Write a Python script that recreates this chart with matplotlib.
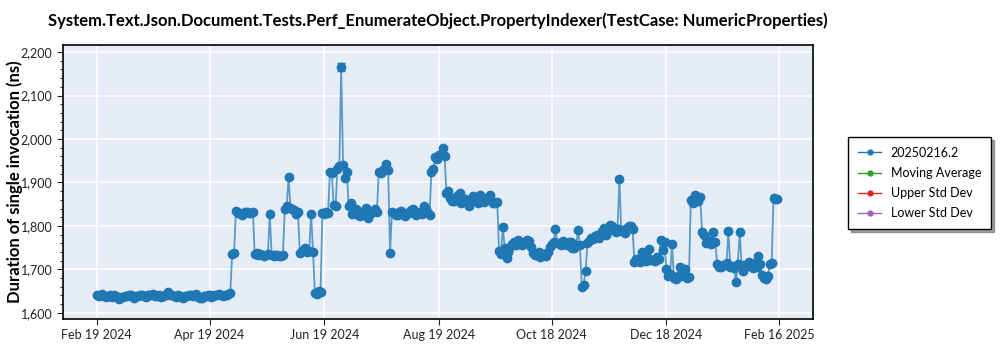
import matplotlib.pyplot as plt
import matplotlib.dates as mdates
import pandas as pd
from matplotlib.ticker import AutoMinorLocator, FuncFormatter


TITULO = "System.Text.Json.Document.Tests.Perf_EnumerateObject.PropertyIndexer(TestCase: NumericProperties)"
ETIQUETA_Y = "Duration of single invocation (ns)"

FECHA_INICIO = "2024-02-19"
PASO = "1D"

# duracion media por ejecucion diaria (ns)
valores = [
    # feb - abr 2024
    1641, 1639, 1640, 1643, 1638, 1636, 1639, 1641, 1636, 1640, 1638, 1635,
    1632, 1637, 1637, 1639, 1639, 1642, 1640, 1637, 1634, 1638, 1638, 1640,
    1641, 1639, 1637, 1640, 1640, 1642, 1643, 1639, 1638, 1641, 1636, 1639,
    1642, 1640, 1648, 1641, 1640, 1638, 1637, 1640, 1639, 1636, 1635, 1639,
    1638, 1642, 1641, 1638, 1640, 1643, 1637, 1634, 1633, 1638, 1639, 1641,
    1640, 1637, 1638, 1640, 1641, 1644, 1642, 1639, 1640, 1642, 1643, 1645,
    # may - jun 2024
    1735, 1738, 1834, 1830, 1830, 1826, 1828, 1832, 1831, 1829, 1829, 1833,
    1735, 1738, 1733, 1736, 1734, 1731, 1732, 1735, 1828, 1733, 1731, 1734,
    1733, 1730, 1730, 1733, 1838, 1845, 1912, 1842, 1840, 1836, 1828, 1833,
    1738, 1742, 1745, 1748, 1740, 1743, 1828, 1741, 1646, 1643, 1650, 1647,
    # jun - jul 2024
    1830, 1828, 1833, 1829, 1925, 1922, 1848, 1845, 1932, 1938, 2165, 1940,
    1910, 1925, 1845, 1852, 1828, 1835, 1840, 1826, 1822, 1830, 1835, 1842,
    1818, 1826, 1830, 1834, 1838, 1832, 1925, 1922, 1928, 1930, 1942, 1928,
    1738, 1832, 1830, 1826,
    1826, 1832, 1835, 1828, 1822, 1830, 1830, 1836, 1840, 1832, 1826, 1830,
    1832, 1828, 1845, 1838, 1830, 1826, 1925, 1930, 1958, 1955, 1962, 1966,
    1980, 1960,
    # ago - oct 2024
    1875, 1880, 1865, 1858, 1858, 1866, 1870, 1875, 1852, 1860, 1862, 1855,
    1845, 1858, 1868, 1862, 1860, 1853, 1872, 1866, 1855, 1862, 1863, 1870,
    1858, 1852, 1852, 1856, 1742, 1735, 1798, 1748, 1725, 1740, 1752, 1758,
    1762, 1756, 1768, 1760, 1755, 1762, 1760, 1768, 1765, 1752, 1738, 1732,
    1732, 1740, 1728, 1735, 1735, 1730, 1740, 1752, 1758, 1762, 1792, 1760,
    1760, 1756, 1765, 1758, 1755, 1762, 1762, 1748, 1750, 1756, 1790, 1755,
    1660, 1665, 1695, 1760,
    # nov - dic 2024
    1765, 1772, 1770, 1776, 1778, 1772, 1782, 1788, 1795, 1780, 1788, 1802,
    1800, 1790, 1785, 1792, 1908, 1788, 1790, 1784, 1795, 1800, 1800, 1792,
    1718, 1724, 1722, 1718, 1740, 1721, 1720, 1725, 1746, 1722, 1722, 1720,
    1728, 1724, 1768, 1745,
    # dic 2024 - feb 2025
    1763, 1700, 1685, 1690, 1758, 1680, 1678, 1684, 1705, 1685, 1690, 1700,
    1680, 1683, 1860, 1852, 1872, 1862, 1858, 1866, 1785, 1780, 1760, 1765,
    1765, 1758, 1785, 1762, 1712, 1706, 1705, 1710, 1710, 1715, 1788, 1706,
    1708, 1704, 1670, 1712,
    1785, 1710, 1695, 1706, 1712, 1718, 1708, 1702, 1715, 1705, 1730, 1712,
    1688, 1680, 1678, 1685, 1712, 1715, 1865, 1862, 1862,
]

# desviacion de cada medida (ns)
errores = [
    2, 3, 2, 2, 3, 2, 2, 3, 2, 2, 3, 2, 2, 3, 2, 2, 2, 3, 2, 2,
    3, 2, 2, 3, 2, 2, 3, 2, 2, 2, 3, 2, 2, 3, 2, 2, 3, 2, 2, 3,
    2, 2, 3, 2, 2, 3, 2, 2, 2, 3, 2, 2, 3, 2, 2, 3, 2, 2, 3, 2,
    2, 3, 2, 2, 3, 2, 2, 3, 2, 2, 3, 2, 3, 3, 2, 3, 2, 2, 3, 2,
    3, 2, 3, 3, 2, 3, 3, 2, 3, 2, 3, 3, 2, 3, 3, 2, 3, 2, 3, 3,
    3, 4, 4, 3, 3, 2, 3, 3, 2, 3, 3, 3, 4, 3, 3, 3, 2, 3, 3, 3,
    3, 2, 3, 3, 4, 3, 3, 2, 4, 4, 9, 4, 4, 3, 3, 3, 2, 3, 3, 2,
    3, 3, 2, 3, 3, 2, 3, 3, 2, 3, 4, 3, 3, 3, 4, 3, 2, 3, 3, 2,
    3, 2, 3, 3, 2, 3, 3, 2, 3, 3, 4, 3, 3, 2, 3, 3, 3, 2, 3, 3,
    4, 3, 3, 3, 2, 3, 3, 3, 2, 3, 3, 3, 2, 3, 3, 3, 3, 2, 3, 3,
    3, 3, 2, 3, 3, 3, 3, 2, 3, 3, 3, 2, 3, 4, 4, 5, 5, 3, 3, 3,
    3, 2, 3, 3, 2, 3, 3, 3, 2, 3, 3, 3, 3, 3, 2, 3, 3, 3, 3, 2,
    3, 3, 3, 2, 3, 4, 3, 3, 2, 3, 3, 3, 3, 2, 3, 3, 3, 4, 3, 3,
    3, 3, 2, 3, 3, 3, 4, 3, 3, 2, 3, 3, 3, 3, 3, 2, 3, 3, 3, 3,
    3, 3, 3, 2, 3, 3, 4, 3, 3, 3, 3, 2, 3, 3, 3, 3, 4, 3, 3, 3,
    3, 4, 3, 3, 4, 3, 2, 3, 3, 4, 3, 3, 2, 3, 3, 4, 3, 3, 3, 2,
    3, 4, 3, 3, 3, 2, 3, 3, 5, 4, 3, 3, 4, 3, 3, 2, 5, 4, 3, 3,
    4, 3, 2, 3, 4, 3, 3, 4, 3, 2, 3, 3, 4, 3, 4, 3, 3, 2, 3, 3,
    3, 4, 3,
]

ticks_x = ["2024-02-19", "2024-04-19", "2024-06-19", "2024-08-19",
           "2024-10-18", "2024-12-18", "2025-02-16"]

series_leyenda = ["20250216.2", "Moving Average", "Upper Std Dev", "Lower Std Dev"]
colores_leyenda = ["#1f77b4", "#2ca02c", "#d62728", "#9467bd"]

AZUL = "#1f77b4"
FONDO = "#e5ecf6"


def dibujar():
    plt.rcParams["font.family"] = ["Lato", "DejaVu Sans"]

    fechas = pd.date_range(FECHA_INICIO, periods=len(valores), freq=PASO)

    fig = plt.figure(figsize=(10, 3.5), dpi=100)
    ax = fig.add_axes([0.063, 0.089, 0.75, 0.782])
    ax.set_facecolor(FONDO)

    # linea semitransparente y puntos con barras de error
    ax.plot(fechas, valores, color=AZUL, linewidth=1.3, alpha=0.7, zorder=2)
    ax.errorbar(fechas, valores, yerr=errores, fmt="o", color=AZUL,
                markersize=6, elinewidth=1, capsize=3, capthick=1, zorder=3)

    ax.set_xlim(pd.Timestamp("2024-02-01"), pd.Timestamp("2025-03-06"))
    ax.set_ylim(1586, 2216)

    ax.set_xticks([pd.Timestamp(t) for t in ticks_x])
    ax.xaxis.set_major_formatter(mdates.DateFormatter("%b %d %Y"))
    ax.set_yticks([1600, 1700, 1800, 1900, 2000, 2100, 2200])
    ax.yaxis.set_major_formatter(FuncFormatter(lambda v, _: f"{v:,.0f}"))
    ax.yaxis.set_minor_locator(AutoMinorLocator(5))

    ax.tick_params(axis="both", labelsize=9, colors="#222222", length=4)
    ax.tick_params(axis="y", which="minor", length=2)
    ax.grid(True, color="white", linewidth=1.1)
    ax.set_axisbelow(True)
    for spine in ax.spines.values():
        spine.set_color("black")
        spine.set_linewidth(1.2)

    ax.set_title(TITULO, fontsize=12, fontweight="bold", pad=14)
    ax.set_ylabel(ETIQUETA_Y, fontsize=12, fontweight="bold")
    ax.yaxis.set_label_coords(-0.053, 0.5)

    # leyenda fuera del area de trazado
    handles = [
        plt.Line2D([], [], color=c, marker="o", markersize=3.5, linewidth=1)
        for c in colores_leyenda
    ]
    ax.legend(handles, series_leyenda, loc="upper left",
              bbox_to_anchor=(1.047, 0.665), borderaxespad=0, fontsize=9,
              frameon=True, fancybox=False, shadow=True, edgecolor="black",
              borderpad=0.8, labelspacing=0.65, handlelength=1.8)

    fig.savefig("out.png", dpi=100)
    plt.close(fig)


if __name__ == "__main__":
    dibujar()
